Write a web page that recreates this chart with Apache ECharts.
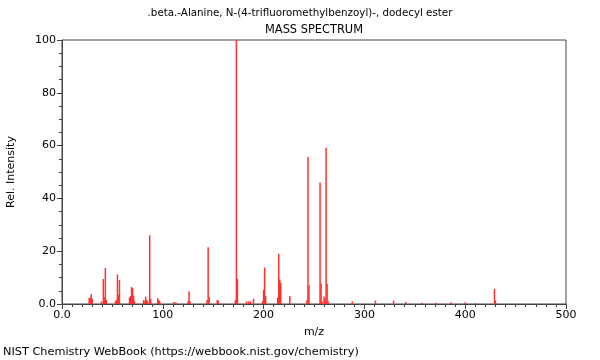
<!DOCTYPE html>
<html><head><meta charset="utf-8">
<script src="https://cdn.jsdelivr.net/npm/echarts@6/dist/echarts.min.js"></script>
<style>html,body{margin:0;padding:0;background:#fff}#c{width:600px;height:360px}</style>
</head><body><div id="c"></div>
<script>
const titleText = ".beta.-Alanine, N-(4-trifluoromethylbenzoyl)-, dodecyl ester";
const subtitleText = "MASS SPECTRUM";
const footerText = "NIST Chemistry WebBook (https://webbook.nist.gov/chemistry)";
const xName = "m/z";
const yName = "Rel. Intensity";
const mzValues = [27,28,29,30,39,41,42,43,44,53,54,55,56,57,67,68,69,70,71,72,81,82,83,84,85,87,88,95,96,97,111,113,125,126,127,
  144,145,146,154,155,172,173,174,183,185,187,190,199,200,201,202,214,215,216,217,226,
  243,244,245,256,257,258,260,261,262,263,264,288,311,329,341,357,371,386,400,410,429,430];
const intensities = [2.3,2.5,3.8,2,1,9.5,2.5,13.7,1.5,1,1.5,11.2,3.5,9.1,2.5,3,6.4,6,3.2,1,1.5,1,2.8,1.5,1,26,2,2.2,1.5,1,0.8,0.6,1,4.8,1,
  1.5,21.5,2.6,1.5,1.2,1.5,100,9.5,1,1,1,2,1,5.3,13.8,3,2.5,19,9.3,8,3,
  1.5,55.7,7.2,46,7.8,1,2.8,2,59.2,7.6,1,1,1.3,1.3,0.8,0.5,0.5,0.7,0.7,0.3,5.7,1.3];
const xTicks = [0,100,200,300,400,500];
const yTicks = [0,20,40,60,80,100];

const chart = echarts.init(document.getElementById('c'), null, {renderer:'canvas'});
const font = 'DejaVu Sans';
chart.setOption({
  animation:false,
  textStyle:{fontFamily:font},
  title:[
    {text:titleText, left:300, top:8, padding:0, textAlign:'center', textStyle:{fontSize:10.3, fontWeight:'normal', color:'#000', fontFamily:font}},
    {text:subtitleText, left:314, top:25, padding:0, textAlign:'center', textStyle:{fontSize:11.4, fontWeight:'normal', color:'#000', fontFamily:font}},
    {text:footerText, left:3, top:347, padding:0, textStyle:{fontSize:11.3, fontWeight:'normal', color:'#000', fontFamily:font}}
  ],
  grid:{left:62, right:34, top:40, bottom:56, containLabel:false, outerBoundsMode:'none', show:true, borderColor:'#444', borderWidth:1, backgroundColor:'transparent'},
  xAxis:{type:'value', min:0, max:500, interval:100, name:xName, nameLocation:'middle', nameGap:23,
    nameTextStyle:{fontSize:11, color:'#000', fontFamily:font},
    axisLine:{lineStyle:{color:'#444'}}, splitLine:{show:false},
    axisTick:{length:5, lineStyle:{color:'#444'}},
    minorTick:{show:true, splitNumber:10, length:3, lineStyle:{color:'#444'}},
    axisLabel:{fontSize:11, color:'#000', margin:6, formatter:v=> v===0 ? '0.0' : String(v)}},
  yAxis:{type:'value', min:0, max:100, interval:20, name:yName, nameLocation:'middle', nameGap:45, nameRotate:90,
    nameTextStyle:{fontSize:11, color:'#000', fontFamily:font},
    axisLine:{show:true, lineStyle:{color:'#444'}}, splitLine:{show:false},
    axisTick:{show:true, length:5, lineStyle:{color:'#444'}},
    minorTick:{show:true, splitNumber:4, length:3, lineStyle:{color:'#444'}},
    axisLabel:{fontSize:11, color:'#000', margin:6, formatter:v=> v===0 ? '0.0' : String(v)}},
  series:[{type:'bar', barWidth:1.5, barGap:'-100%', itemStyle:{color:'#ff3030'},
    data: mzValues.map((m,i)=>[m, intensities[i]])}]
});
</script></body></html>
